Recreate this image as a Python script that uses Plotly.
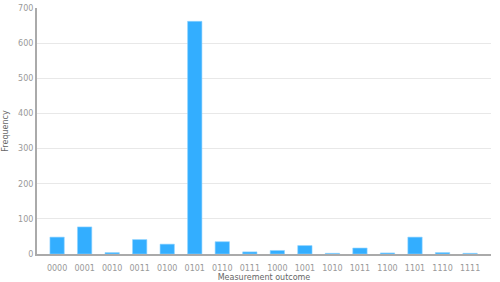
import plotly.graph_objects as go

outcomes = ["0000", "0001", "0010", "0011", "0100", "0101", "0110", "0111",
            "1000", "1001", "1010", "1011", "1100", "1101", "1110", "1111"]
frequency = [48, 77, 4, 41, 28, 662, 35, 6, 10, 24, 2, 17, 3, 48, 4, 2]

fig = go.Figure(go.Bar(
    x=outcomes, y=frequency,
    marker=dict(color="#33AEFF", line=dict(color="#8fd3ff", width=0.6)),
    width=0.52,
))

fig.update_layout(
    width=500, height=282,
    margin=dict(l=37, r=9, t=8, b=28),
    paper_bgcolor="white", plot_bgcolor="white",
    font=dict(family="DejaVu Sans", size=8, color="#999999"),
    showlegend=False,
    bargap=0.48,
)
fig.update_xaxes(
    type="category", range=[-0.73, 15.76], automargin=False,
    showline=True, linecolor="#aaaaaa", linewidth=1.5,
    showgrid=False, ticks="", ticklabelstandoff=6,
    tickfont=dict(size=8, color="#999999"),
    title=dict(text="Measurement outcome", font=dict(size=8, color="#666666"), standoff=4),
)
fig.update_yaxes(
    range=[0, 700], dtick=100, automargin=False,
    showline=True, linecolor="#aaaaaa", linewidth=2,
    showgrid=True, gridcolor="#e8e8e8", gridwidth=1,
    zeroline=False, ticks="", tickfont=dict(size=8, color="#999999"),
    title=dict(text="Frequency", font=dict(size=8, color="#666666"), standoff=8),
)

fig.write_html("out.html")
